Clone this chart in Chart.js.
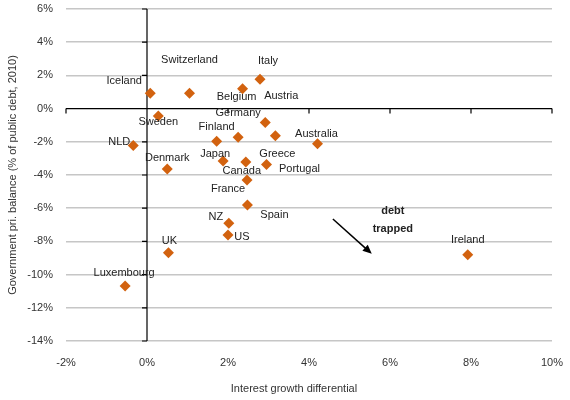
<!DOCTYPE html>
<html>
<head>
<meta charset="utf-8">
<script src="https://cdn.jsdelivr.net/npm/chart.js@4/dist/chart.umd.min.js"></script>
<style>
  html, body { margin: 0; padding: 0; background: #fff; }
  #wrap { width: 570px; height: 400px; }
</style>
</head>
<body>
<div id="wrap"><canvas id="chart"></canvas></div>
<script>
// data
var countries = ['Iceland', 'Switzerland', 'Belgium', 'Italy', 'Austria', 'Germany', 'Sweden',
    'Finland', 'Greece', 'Australia', 'NLD', 'Denmark', 'Japan', 'Canada', 'Portugal',
    'France', 'Spain', 'NZ', 'US', 'UK', 'Luxembourg', 'Ireland'];
var interestGrowth = [0.08, 1.05, 2.36, 2.79, 2.92, 2.25, 0.28, 1.72, 3.17, 4.21, -0.34,
    0.5, 1.88, 2.44, 2.95, 2.47, 2.48, 2.02, 2.0, 0.53, -0.54, 7.92];
var priBalance = [0.92, 0.92, 1.2, 1.77, -0.83, -1.73, -0.45, -1.97, -1.63, -2.11, -2.23,
    -3.64, -3.16, -3.22, -3.36, -4.3, -5.81, -6.91, -7.61, -8.68, -10.69, -8.8];

// where each name sits relative to its diamond (pixels)
var labelShift = [[-26, -12], [0, -33], [-6, 8], [8, -18], [16, -26], [0, -24], [0, 6],
    [0, -14], [2, 18], [-1, -10], [-14, -4], [0, -11], [-8, -7], [-4, 9], [33, 5],
    [-19, 9], [27, 10], [-13, -6], [14, 2], [1, -12], [-1, -13], [0, -15]];

var font = '"Liberation Sans", Arial, sans-serif';

var points = [];
for (let i = 0; i < countries.length; i++) {
    points.push({x: interestGrowth[i], y: priBalance[i]});
}

var axesAndLabels = {
    id: 'axesAndLabels',
    beforeDatasetsDraw: function(chart) {
        var ctx = chart.ctx;
        var xs = chart.scales.x, ys = chart.scales.y;
        var x0 = xs.getPixelForValue(0), y0 = ys.getPixelForValue(0);
        var area = chart.chartArea;
        ctx.save();
        ctx.strokeStyle = '#000';
        ctx.lineWidth = 1.2;
        ctx.beginPath();
        ctx.moveTo(area.left, y0);
        ctx.lineTo(area.right, y0);
        ctx.moveTo(x0, area.top);
        ctx.lineTo(x0, area.bottom);
        xs.ticks.forEach(function(t) {
            var px = xs.getPixelForValue(t.value);
            ctx.moveTo(px, y0);
            ctx.lineTo(px, y0 + 5);
        });
        ys.ticks.forEach(function(t) {
            var py = ys.getPixelForValue(t.value);
            ctx.moveTo(x0 - 5, py);
            ctx.lineTo(x0, py);
        });
        ctx.stroke();

        // x axis title sits a little left of centre in the original
        ctx.font = '11px ' + font;
        ctx.fillStyle = '#333';
        ctx.textAlign = 'center';
        ctx.textBaseline = 'middle';
        ctx.fillText('Interest growth differential', (area.left + area.right) / 2 - 15, 389);
        ctx.restore();
    },
    afterDatasetsDraw: function(chart) {
        var ctx = chart.ctx;
        var meta = chart.getDatasetMeta(0);
        var xs = chart.scales.x, ys = chart.scales.y;
        ctx.save();
        ctx.font = '11px ' + font;
        ctx.fillStyle = '#222';
        ctx.textAlign = 'center';
        ctx.textBaseline = 'middle';
        meta.data.forEach(function(el, i) {
            ctx.fillText(countries[i], el.x + labelShift[i][0], el.y + labelShift[i][1]);
        });

        // debt trapped note and arrow
        ctx.font = 'bold 11px ' + font;
        ctx.fillText('debt', xs.getPixelForValue(6.07), ys.getPixelForValue(-6.17));
        ctx.fillText('trapped', xs.getPixelForValue(6.07), ys.getPixelForValue(-7.25));
        var ax = xs.getPixelForValue(4.59), ay = ys.getPixelForValue(-6.65);
        var bx = xs.getPixelForValue(5.55), by = ys.getPixelForValue(-8.75);
        var ang = Math.atan2(by - ay, bx - ax);
        ctx.strokeStyle = '#000';
        ctx.lineWidth = 1.5;
        ctx.beginPath();
        ctx.moveTo(ax, ay);
        ctx.lineTo(bx - 6 * Math.cos(ang), by - 6 * Math.sin(ang));
        ctx.stroke();
        ctx.beginPath();
        ctx.moveTo(bx, by);
        ctx.lineTo(bx - 9 * Math.cos(ang) + 4 * Math.sin(ang), by - 9 * Math.sin(ang) - 4 * Math.cos(ang));
        ctx.lineTo(bx - 9 * Math.cos(ang) - 4 * Math.sin(ang), by - 9 * Math.sin(ang) + 4 * Math.cos(ang));
        ctx.closePath();
        ctx.fillStyle = '#000';
        ctx.fill();
        ctx.restore();
    }
};

var config = {
    type: 'scatter',
    data: {
        datasets: [{
            data: points,
            pointStyle: 'rectRot',
            pointRadius: 5.5,
            pointHoverRadius: 5.5,
            backgroundColor: '#d2620f',
            borderWidth: 0
        }]
    },
    options: {
        responsive: true,
        maintainAspectRatio: false,
        animation: false,
        layout: {padding: {top: 9, right: 18, bottom: 0, left: 0}},
        plugins: {legend: {display: false}, tooltip: {enabled: false}},
        scales: {
            x: {
                min: -2, max: 10,
                afterFit: function(scale) {
                    scale.height = 59;
                    scale.paddingLeft = 0;
                    scale.paddingRight = 0;
                },
                grid: {display: false, drawTicks: false},
                border: {display: false},
                ticks: {
                    stepSize: 2, padding: 15, color: '#333',
                    font: {family: font, size: 11},
                    callback: function(v) { return v + '%'; }
                }
            },
            y: {
                min: -14, max: 6,
                afterFit: function(scale) {
                    scale.width = 66;
                    scale.paddingTop = 0;
                    scale.paddingBottom = 0;
                },
                grid: {
                    drawTicks: false, lineWidth: 1.5,
                    color: function(c) { return c.tick && c.tick.value === 0 ? 'rgba(0,0,0,0)' : '#c6c6c6'; }
                },
                border: {display: false},
                ticks: {
                    stepSize: 2, padding: 13, color: '#333',
                    font: {family: font, size: 11},
                    callback: function(v) { return v + '%'; }
                },
                title: {
                    display: true, text: 'Government pri. balance (% of public debt, 2010)', color: '#333',
                    font: {family: font, size: 11}, padding: {top: 6, bottom: 0}
                }
            }
        }
    },
    plugins: [axesAndLabels]
};

var chart_ctx = document.getElementById('chart').getContext('2d');
window.scatterChart = new Chart(chart_ctx, config);
</script>
</body>
</html>
